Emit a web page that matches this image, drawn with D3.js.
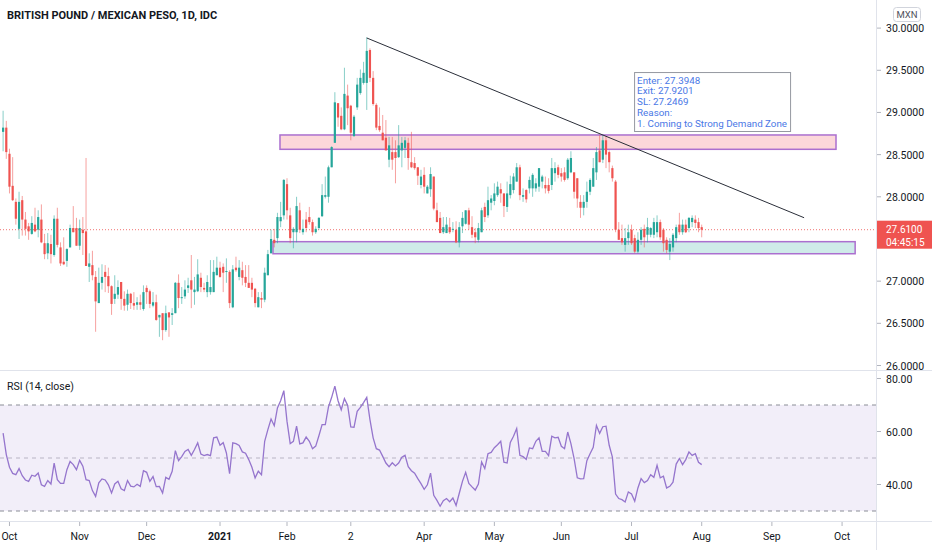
<!DOCTYPE html>
<html lang="en">
<head>
<meta charset="utf-8">
<title>GBPMXN 1D with RSI</title>
<script src="https://cdn.jsdelivr.net/npm/d3@7"></script>
<style>
  body { margin: 0; background: #fff; }
  svg text { font-family: Roboto, "Liberation Sans", sans-serif; fill: #131722; }
</style>
</head>
<body>
<script>
// daily bars, weekdays only, first bar Tue 29 Sep 2020, last bar Mon 2 Aug 2021
var firstDay = new Date(2020, 8, 29);

var opens = [
  28.77, 28.82, 28.51, 28.13, 27.94, 27.62, 27.96, 27.73, 27.65, 27.56,
  27.67, 27.61, 27.73, 27.45, 27.33, 27.44, 27.31, 27.74, 27.40, 27.23,
  27.24, 27.40, 27.63, 27.63, 27.42, 27.61, 27.59, 27.17, 27.19, 27.05,
  26.74, 26.98, 27.11, 27.06, 26.94, 26.79, 26.84, 26.99, 26.79, 26.72,
  26.85, 26.74, 26.72, 26.75, 26.67, 26.92, 26.88, 26.71, 26.75, 26.57,
  26.62, 26.42, 26.63, 26.60, 26.62, 26.98, 26.80, 26.82, 26.92, 27.01,
  26.87, 26.88, 27.04, 26.92, 26.87, 26.87, 26.87, 27.07, 27.16, 27.17,
  27.11, 27.11, 26.69, 27.16, 27.05, 27.13, 27.05, 26.98, 26.98, 26.91,
  26.69, 26.80, 26.78, 27.07, 27.33, 27.49, 27.51, 27.71, 27.78, 28.15,
  27.78, 27.58, 27.58, 27.84, 27.58, 27.73, 27.76, 27.70, 27.58, 27.63,
  27.77, 28.00, 28.00, 28.35, 28.64, 29.11, 28.96, 28.80, 29.20, 29.08,
  28.72, 29.06, 29.23, 29.35, 29.35, 29.74, 29.41, 29.09, 28.84, 28.76,
  28.70, 28.44, 28.53, 28.53, 28.47, 28.55, 28.58, 28.64, 28.41, 28.40,
  28.35, 28.14, 28.26, 28.04, 28.09, 28.24, 27.84, 27.75, 27.58, 27.57,
  27.64, 27.61, 27.61, 27.46, 27.65, 27.68, 27.84, 27.64, 27.58, 27.49,
  27.58, 27.88, 27.78, 27.93, 27.95, 28.02, 28.09, 28.04, 27.88, 28.02,
  28.08, 28.18, 28.35, 28.00, 28.08, 28.10, 28.10, 28.10, 28.12, 28.18,
  28.14, 28.14, 28.14, 28.28, 28.35, 28.28, 28.29, 28.22, 28.29, 28.29,
  28.22, 27.94, 27.87, 27.94, 28.06, 28.12, 28.29, 28.55, 28.44, 28.67,
  28.53, 28.34, 28.18, 27.61, 27.51, 27.43, 27.51, 27.61, 27.51, 27.35,
  27.49, 27.62, 27.55, 27.55, 27.55, 27.58, 27.70, 27.61, 27.49, 27.35,
  27.40, 27.51, 27.67, 27.58, 27.67, 27.63, 27.70, 27.73, 27.70, 27.64
];
var highs = [
  29.02, 28.90, 28.57, 28.47, 27.98, 28.06, 28.01, 27.82, 27.69, 27.77,
  27.87, 27.84, 27.91, 27.56, 27.57, 27.55, 27.78, 27.87, 27.46, 27.52,
  27.39, 27.67, 27.89, 27.75, 27.73, 27.76, 28.46, 27.33, 27.36, 27.12,
  27.16, 27.20, 27.19, 27.16, 26.95, 27.07, 27.01, 26.99, 26.88, 26.90,
  26.86, 26.87, 26.81, 26.84, 26.95, 26.95, 26.90, 26.87, 26.84, 26.60,
  26.62, 26.71, 26.63, 26.68, 26.99, 27.08, 26.93, 27.01, 27.04, 27.31,
  27.05, 27.26, 27.10, 26.98, 27.07, 27.25, 27.25, 27.29, 27.23, 27.21,
  27.27, 27.13, 27.19, 27.29, 27.25, 27.23, 27.19, 27.19, 27.04, 26.92,
  26.87, 26.87, 27.16, 27.37, 27.61, 27.62, 27.81, 27.94, 28.21, 28.22,
  27.87, 27.64, 28.00, 27.93, 27.73, 27.82, 27.88, 27.73, 27.65, 27.76,
  28.15, 28.24, 28.37, 28.60, 29.24, 29.11, 29.06, 29.53, 29.33, 29.09,
  28.97, 29.41, 29.51, 29.60, 29.89, 29.76, 29.49, 29.11, 29.06, 28.97,
  28.91, 28.71, 28.71, 28.67, 28.85, 28.71, 28.71, 28.70, 28.77, 28.47,
  28.35, 28.32, 28.35, 28.14, 28.35, 28.24, 27.93, 27.82, 27.76, 27.76,
  27.75, 27.70, 27.71, 27.70, 27.82, 27.84, 27.87, 27.77, 27.63, 27.69,
  27.87, 27.93, 28.12, 28.02, 28.16, 28.18, 28.16, 28.04, 28.18, 28.25,
  28.28, 28.40, 28.38, 28.10, 28.09, 28.24, 28.28, 28.22, 28.34, 28.26,
  28.24, 28.22, 28.46, 28.41, 28.38, 28.34, 28.35, 28.46, 28.54, 28.29,
  28.22, 28.02, 28.02, 28.18, 28.22, 28.46, 28.59, 28.73, 28.73, 28.72,
  28.55, 28.37, 28.20, 27.70, 27.67, 27.63, 27.67, 27.67, 27.55, 27.58,
  27.64, 27.67, 27.75, 27.64, 27.75, 27.78, 27.73, 27.63, 27.52, 27.51,
  27.57, 27.67, 27.81, 27.73, 27.73, 27.76, 27.78, 27.78, 27.75, 27.67
];
var lows = [
  28.54, 28.45, 28.04, 27.95, 27.67, 27.50, 27.54, 27.54, 27.49, 27.55,
  27.58, 27.52, 27.45, 27.26, 27.26, 27.21, 27.29, 27.40, 27.18, 27.19,
  27.17, 27.40, 27.58, 27.42, 27.37, 27.31, 27.18, 26.99, 27.01, 26.40,
  26.74, 26.90, 26.87, 26.86, 26.60, 26.73, 26.79, 26.66, 26.65, 26.65,
  26.67, 26.66, 26.66, 26.66, 26.65, 26.73, 26.68, 26.69, 26.53, 26.34,
  26.30, 26.40, 26.34, 26.48, 26.62, 26.68, 26.73, 26.79, 26.86, 26.68,
  26.72, 26.87, 26.87, 26.87, 26.81, 26.84, 26.87, 27.07, 27.04, 26.87,
  26.98, 26.68, 26.68, 27.11, 27.01, 26.95, 26.93, 26.92, 26.81, 26.69,
  26.69, 26.68, 26.75, 27.07, 27.33, 27.40, 27.45, 27.64, 27.73, 27.73,
  27.45, 27.39, 27.46, 27.57, 27.55, 27.58, 27.67, 27.54, 27.56, 27.61,
  27.76, 27.98, 27.93, 28.35, 28.64, 28.83, 28.79, 28.79, 28.85, 28.67,
  28.71, 29.03, 29.21, 29.33, 29.03, 29.36, 29.08, 28.79, 28.77, 28.67,
  28.55, 28.35, 28.32, 28.16, 28.46, 28.35, 28.46, 28.32, 28.34, 28.32,
  28.14, 28.10, 28.04, 28.04, 28.00, 27.84, 27.70, 27.57, 27.56, 27.57,
  27.56, 27.58, 27.45, 27.40, 27.57, 27.67, 27.61, 27.51, 27.45, 27.46,
  27.58, 27.70, 27.75, 27.84, 27.90, 28.00, 27.93, 27.76, 27.82, 27.98,
  28.04, 28.18, 27.96, 27.94, 27.93, 28.04, 28.00, 28.06, 28.06, 28.10,
  28.04, 28.04, 28.08, 28.18, 28.22, 28.18, 28.18, 28.20, 28.28, 27.98,
  27.87, 27.75, 27.78, 27.87, 28.02, 28.12, 28.20, 28.41, 28.40, 28.34,
  28.29, 28.18, 27.58, 27.49, 27.43, 27.35, 27.43, 27.43, 27.33, 27.33,
  27.43, 27.40, 27.46, 27.52, 27.51, 27.52, 27.49, 27.35, 27.33, 27.25,
  27.35, 27.46, 27.55, 27.55, 27.57, 27.58, 27.64, 27.63, 27.58, 27.52
];
var closes = [
  28.82, 28.53, 28.12, 27.96, 27.74, 27.94, 27.73, 27.62, 27.59, 27.69,
  27.59, 27.76, 27.46, 27.32, 27.45, 27.32, 27.74, 27.43, 27.21, 27.20,
  27.38, 27.63, 27.58, 27.42, 27.63, 27.57, 27.18, 27.21, 27.07, 26.76,
  26.98, 27.05, 27.05, 26.94, 26.73, 26.85, 26.93, 26.79, 26.71, 26.85,
  26.74, 26.71, 26.75, 26.72, 26.87, 26.87, 26.73, 26.75, 26.54, 26.60,
  26.42, 26.62, 26.57, 26.62, 26.98, 26.80, 26.81, 26.90, 26.95, 26.90,
  26.90, 27.08, 26.93, 26.90, 26.99, 26.93, 27.11, 27.16, 27.05, 27.10,
  27.12, 26.74, 27.14, 27.13, 27.16, 27.04, 26.98, 26.92, 26.90, 26.74,
  26.81, 26.78, 27.10, 27.32, 27.50, 27.45, 27.76, 27.76, 28.20, 27.84,
  27.51, 27.62, 27.89, 27.61, 27.62, 27.63, 27.70, 27.58, 27.62, 27.75,
  28.02, 28.02, 28.35, 28.59, 29.12, 28.94, 28.80, 29.22, 29.05, 28.76,
  28.95, 29.33, 29.41, 29.47, 29.73, 29.41, 29.10, 28.82, 28.79, 28.67,
  28.55, 28.61, 28.44, 28.46, 28.61, 28.64, 28.67, 28.46, 28.35, 28.34,
  28.25, 28.24, 28.12, 28.12, 28.27, 27.86, 27.70, 27.57, 27.64, 27.67,
  27.58, 27.62, 27.46, 27.64, 27.75, 27.84, 27.67, 27.55, 27.52, 27.63,
  27.84, 27.76, 27.96, 27.98, 28.04, 28.12, 28.04, 27.89, 28.04, 28.15,
  28.24, 28.35, 28.02, 28.02, 27.97, 28.20, 28.26, 28.16, 28.34, 28.24,
  28.10, 28.07, 28.34, 28.34, 28.26, 28.24, 28.20, 28.44, 28.46, 28.06,
  27.98, 27.87, 27.94, 28.06, 28.20, 28.34, 28.53, 28.41, 28.67, 28.50,
  28.41, 28.22, 27.61, 27.49, 27.46, 27.51, 27.58, 27.45, 27.35, 27.49,
  27.61, 27.52, 27.64, 27.63, 27.70, 27.70, 27.52, 27.45, 27.37, 27.44,
  27.55, 27.64, 27.58, 27.67, 27.58, 27.75, 27.75, 27.69, 27.63, 27.61
];
var rsi = [
  59.4, 51.3, 46.5, 44.2, 43.7, 46.0, 43.3, 41.7, 41.2, 43.5,
  43.1, 44.3, 39.9, 39.3, 41.5, 40.2, 48.1, 41.8, 40.4, 40.4,
  45.6, 48.7, 47.5, 45.6, 49.1, 46.9, 41.8, 41.5, 37.7, 35.5,
  40.6, 42.1, 41.7, 39.9, 36.8, 40.2, 41.2, 38.4, 37.7, 41.5,
  39.4, 39.1, 40.1, 39.3, 45.2, 44.6, 41.2, 43.0, 39.2, 39.3,
  36.8, 42.7, 42.0, 45.0, 52.8, 49.0, 50.5, 52.5, 53.2, 51.0,
  53.2, 55.7, 51.5, 50.9, 51.3, 50.9, 57.6, 57.9, 54.8, 55.8,
  51.9, 44.1, 55.7, 55.4, 54.7, 52.3, 51.8, 49.4, 46.5, 42.5,
  45.0, 43.7, 56.3, 60.7, 64.7, 62.2, 68.9, 71.6, 75.4, 63.8,
  55.4, 56.3, 62.0, 55.3, 55.7, 57.9, 56.3, 53.5, 54.5, 58.4,
  62.6, 62.6, 69.3, 72.9, 77.1, 71.6, 68.2, 72.4, 69.9, 61.7,
  61.6, 67.6, 69.1, 70.9, 72.9, 64.5, 57.6, 53.5, 53.0, 50.6,
  48.1, 46.7, 48.2, 47.0, 48.1, 50.3, 51.0, 46.7, 45.2, 44.3,
  42.2, 40.3, 38.2, 39.9, 44.3, 35.9, 34.0, 31.8, 33.9, 34.7,
  33.5, 34.9, 32.1, 36.7, 41.2, 44.6, 40.4, 39.1, 37.9, 40.2,
  48.5, 46.0, 51.6, 52.1, 53.9, 55.0, 56.3, 48.4, 48.1, 55.9,
  58.2, 61.1, 51.0, 50.5, 49.5, 53.8, 53.5, 56.3, 57.6, 52.5,
  52.5, 50.9, 58.2, 57.6, 57.8, 54.4, 53.5, 59.8, 55.4, 49.8,
  42.5, 42.1, 42.2, 49.0, 51.6, 54.0, 62.3, 59.3, 61.8, 62.0,
  54.8, 50.3, 36.4, 34.7, 34.3, 33.4, 37.2, 36.4, 33.7, 38.7,
  42.2, 40.7, 41.5, 43.7, 42.7, 47.2, 42.5, 43.1, 38.7, 39.3,
  40.9, 47.7, 49.8, 47.5, 49.4, 52.3, 51.0, 51.6, 48.4, 47.5
];

// x axis labels, one per month start
var monthLabels = ["Oct", "Nov", "Dec", "2021", "Feb", "2", "Apr", "May", "Jun", "Jul", "Aug", "Sep", "Oct"];
var priceTicks = [26, 26.5, 27, 27.5, 28, 28.5, 29, 29.5, 30];
var rsiTicks = [40, 60, 80];
var rsiLevels = [70, 50, 30];

// drawings: [bar from, bar to, price top, price bottom]
var supplyZone = [86.8, 261.1, 28.733, 28.563];
var demandZone = [84.6, 267.1, 27.468, 27.325];
var trendLine = [[114, 29.883], [251.1, 27.752]];
var noteBox = [197.8, 246.7, 29.479, 28.780];
var noteLines = ["Enter: 27.3948", "Exit: 27.9201", "SL: 27.2469", "Reason:", "1. Coming to Strong Demand Zone"];
var countdown = "04:45:15";

var w = 932, h = 550;
var paneRight = 876;
var mainBottom = 370;
var axisTop = 521;
var up = "#26a69a", down = "#ef5350";

var days = d3.timeDay.range(firstDay, new Date(2021, 10, 1))
  .filter(function (d) { return d.getDay() !== 0 && d.getDay() !== 6; });

var x = d3.scaleLinear().domain([0, 100]).range([3.1, 3.1 + 319]);
var y = d3.scaleLinear().domain([26, 30]).range([365.5, 28.1]);
var yR = d3.scaleLinear().domain([30, 70]).range([511, 405]);

var svg = d3.select("body").append("svg")
  .attr("width", w)
  .attr("height", h);

svg.append("clipPath").attr("id", "clipMain")
  .append("rect").attr("width", paneRight).attr("height", mainBottom);
svg.append("clipPath").attr("id", "clipRsi")
  .append("rect").attr("y", mainBottom).attr("width", paneRight).attr("height", axisTop - mainBottom);

// frame lines
svg.append("line").attr("x1", 0).attr("x2", w).attr("y1", mainBottom + 0.5).attr("y2", mainBottom + 0.5)
  .attr("stroke", "#e0e3eb");
svg.append("line").attr("x1", 0).attr("x2", w).attr("y1", axisTop + 0.5).attr("y2", axisTop + 0.5)
  .attr("stroke", "#e0e3eb");
svg.append("line").attr("x1", paneRight + 0.5).attr("x2", paneRight + 0.5).attr("y1", 0).attr("y2", h)
  .attr("stroke", "#e0e3eb");

// title
svg.append("text")
  .attr("x", 7).attr("y", 19)
  .attr("font-size", "11px").attr("font-weight", "bold")
  .text("BRITISH POUND / MEXICAN PESO, 1D, IDC");

var main = svg.append("g").attr("clip-path", "url(#clipMain)");

// zones
[[supplyZone, "rgba(242,54,69,0.2)"], [demandZone, "rgba(38,166,154,0.22)"]].forEach(function (z) {
  var r = z[0];
  main.append("rect")
    .attr("x", x(r[0])).attr("width", x(r[1]) - x(r[0]))
    .attr("y", y(r[2])).attr("height", y(r[3]) - y(r[2]))
    .attr("fill", z[1])
    .attr("stroke", "#ab6fcf").attr("stroke-width", 1.5);
});

// last price line
var lastClose = closes[closes.length - 1];
main.append("line")
  .attr("x1", 0).attr("x2", paneRight)
  .attr("y1", y(lastClose)).attr("y2", y(lastClose))
  .attr("stroke", down).attr("stroke-dasharray", "1,2").attr("opacity", 0.8);

// candles
var bars = main.selectAll("g.bar")
  .data(closes)
  .enter()
  .append("g")
  .attr("class", "bar");

bars.append("line")
  .attr("x1", function (d, i) { return x(i); })
  .attr("x2", function (d, i) { return x(i); })
  .attr("y1", function (d, i) { return y(highs[i]); })
  .attr("y2", function (d, i) { return y(lows[i]); })
  .attr("stroke", function (d, i) { return d >= opens[i] ? up : down; })
  .attr("stroke-opacity", 0.55)
  .attr("stroke-width", 1);

bars.append("rect")
  .attr("x", function (d, i) { return x(i) - 1.1; })
  .attr("width", 2.2)
  .attr("y", function (d, i) { return y(Math.max(d, opens[i])); })
  .attr("height", function (d, i) { return Math.max(1, Math.abs(y(d) - y(opens[i]))); })
  .attr("fill", function (d, i) { return d >= opens[i] ? up : down; });

// trend line
main.append("line")
  .attr("x1", x(trendLine[0][0])).attr("y1", y(trendLine[0][1]))
  .attr("x2", x(trendLine[1][0])).attr("y2", y(trendLine[1][1]))
  .attr("stroke", "#2a2e39").attr("stroke-width", 1);

// note
main.append("rect")
  .attr("x", x(noteBox[0]) + 0.5).attr("width", x(noteBox[1]) - x(noteBox[0]))
  .attr("y", y(noteBox[2]) + 0.5).attr("height", y(noteBox[3]) - y(noteBox[2]))
  .attr("fill", "#fff").attr("stroke", "#9598a1");
main.selectAll("text.note")
  .data(noteLines)
  .enter()
  .append("text")
  .attr("class", "note")
  .attr("x", x(noteBox[0]) + 3)
  .attr("y", function (d, i) { return y(noteBox[2]) + 11.5 + i * 10.8; })
  .attr("font-size", "9.8px")
  .style("fill", "#4a78e6")
  .text(function (d) { return d; });

// price axis (ticks under the last price label are hidden, as in the source)
var lastClose = closes[closes.length - 1];
var shownTicks = priceTicks.filter(function (t) { return Math.abs(y(t) - y(lastClose)) > 15; });
var pAxis = svg.append("g");
pAxis.selectAll("line")
  .data(shownTicks)
  .enter()
  .append("line")
  .attr("x1", paneRight + 1).attr("x2", paneRight + 5)
  .attr("y1", function (d) { return y(d); })
  .attr("y2", function (d) { return y(d); })
  .attr("stroke", "#b2b5be");
pAxis.selectAll("text")
  .data(shownTicks)
  .enter()
  .append("text")
  .attr("x", 886)
  .attr("y", function (d) { return y(d) + 4; })
  .attr("font-size", "10.5px")
  .text(d3.format(".4f"));

// currency badge
svg.append("rect")
  .attr("x", 893.5).attr("y", 7.5).attr("width", 27).attr("height", 14).attr("rx", 3)
  .attr("fill", "#fff").attr("stroke", "#d1d4dc");
svg.append("text")
  .attr("x", 907).attr("y", 18).attr("text-anchor", "middle")
  .attr("font-size", "9.5px")
  .style("fill", "#50535e")
  .text("MXN");

// last price label
svg.append("rect")
  .attr("x", paneRight + 1).attr("y", y(lastClose) - 9)
  .attr("width", w - paneRight - 1).attr("height", 28)
  .attr("fill", down);
svg.append("text")
  .attr("x", 886).attr("y", y(lastClose) + 3.5)
  .attr("font-size", "10px")
  .style("fill", "#fff")
  .text(d3.format(".4f")(lastClose));
svg.append("text")
  .attr("x", 886).attr("y", y(lastClose) + 16)
  .attr("font-size", "10px")
  .style("fill", "#fff")
  .text(countdown);

// RSI pane
var rp = svg.append("g").attr("clip-path", "url(#clipRsi)");
rp.append("rect")
  .attr("x", 0).attr("width", paneRight)
  .attr("y", yR(70)).attr("height", yR(30) - yR(70))
  .attr("fill", "rgba(126,87,194,0.1)");
rp.selectAll("line.level")
  .data(rsiLevels)
  .enter()
  .append("line")
  .attr("class", "level")
  .attr("x1", 0).attr("x2", paneRight)
  .attr("y1", function (d) { return yR(d); })
  .attr("y2", function (d) { return yR(d); })
  .attr("stroke", function (d) { return d === 50 ? "#b8b4c4" : "#8a8d96"; })
  .attr("stroke-dasharray", "4,4");

var rsiLine = d3.line()
  .x(function (d, i) { return x(i); })
  .y(function (d) { return yR(d); });
rp.append("path")
  .datum(rsi)
  .attr("d", rsiLine)
  .attr("fill", "none")
  .attr("stroke", "#9575cd")
  .attr("stroke-width", 1.3);

svg.append("text")
  .attr("x", 7).attr("y", 390)
  .attr("font-size", "10.5px")
  .text("RSI (14, close)");

var rAxis = svg.append("g");
rAxis.selectAll("line")
  .data(rsiTicks)
  .enter()
  .append("line")
  .attr("x1", paneRight + 1).attr("x2", paneRight + 5)
  .attr("y1", function (d) { return yR(d); })
  .attr("y2", function (d) { return yR(d); })
  .attr("stroke", "#b2b5be");
rAxis.selectAll("text")
  .data(rsiTicks)
  .enter()
  .append("text")
  .attr("x", 886)
  .attr("y", function (d) { return yR(d) + 4; })
  .attr("font-size", "10.5px")
  .text(d3.format(".2f"));

// time axis: a tick at the first bar of each month
var monthStarts = [];
days.forEach(function (d, i) {
  if (i > 0 && d.getMonth() !== days[i - 1].getMonth()) monthStarts.push(i);
});
monthStarts = monthStarts.slice(0, monthLabels.length);

var tAxis = svg.append("g");
tAxis.selectAll("line")
  .data(monthStarts)
  .enter()
  .append("line")
  .attr("x1", function (d) { return x(d); })
  .attr("x2", function (d) { return x(d); })
  .attr("y1", axisTop + 1).attr("y2", axisTop + 5)
  .attr("stroke", "#b2b5be");
tAxis.selectAll("text")
  .data(monthStarts)
  .enter()
  .append("text")
  .attr("x", function (d) { return x(d); })
  .attr("y", 540)
  .attr("text-anchor", "middle")
  .attr("font-size", "10.5px")
  .attr("font-weight", function (d, i) { return monthLabels[i] === "2021" ? "bold" : "normal"; })
  .text(function (d, i) { return monthLabels[i]; });
</script>
</body>
</html>
